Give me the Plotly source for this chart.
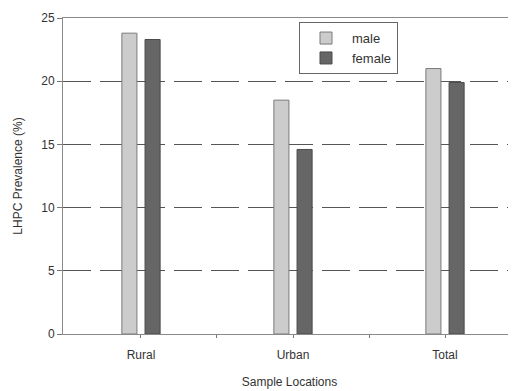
import plotly.graph_objects as go

categories = ["Rural", "Urban", "Total"]
male = [23.8, 18.5, 21.0]
female = [23.3, 14.6, 19.9]
y_ticks = [0, 5, 10, 15, 20, 25]

xpos = list(range(len(categories)))

fig = go.Figure()
fig.add_trace(go.Bar(x=xpos, y=male, name="male",
                     marker=dict(color="#cccccc", line=dict(color="#7a7a7a", width=1))))
fig.add_trace(go.Bar(x=xpos, y=female, name="female",
                     marker=dict(color="#666666", line=dict(color="#4a4a4a", width=1))))

font = "Liberation Sans, Arial, sans-serif"
fig.update_layout(
    width=508, height=383,
    margin=dict(l=55, r=0, t=10, b=57, autoexpand=False),
    paper_bgcolor="white", plot_bgcolor="white",
    barmode="group", bargap=0.695, bargroupgap=0.35,
    font=dict(family=font, size=12, color="#333333"),
    showlegend=True,
    legend=dict(x=0.521, y=0.987, xanchor="left", yanchor="top",
                bordercolor="#666666", borderwidth=1, bgcolor="white",
                font=dict(size=13, color="#333333"),
                itemwidth=42, tracegroupgap=0),
    xaxis=dict(range=[-0.513, 2.467], tickmode="array",
               tickvals=[0, 0.5, 1, 1.5, 2],
               ticktext=["Rural", "", "Urban", "", "Total"],
               ticks="outside", ticklen=3, tickcolor="#777777",
               ticklabelstandoff=7,
               showline=True, linecolor="#8a8a8a", linewidth=1, mirror=True,
               showgrid=False, zeroline=False,
               title=dict(text="Sample Locations", standoff=16, font=dict(size=12))),
    yaxis=dict(range=[0, 25], tickmode="array", tickvals=y_ticks,
               ticks="outside", ticklen=5, tickcolor="#777777",
               showline=True, linecolor="#8a8a8a", linewidth=1,
               showgrid=True, gridcolor="#555555", gridwidth=1, griddash="28px,9px",
               zeroline=False,
               title=dict(text="LHPC Prevalence (%)", standoff=16, font=dict(size=12)),
               tickfont=dict(size=12)),
)
fig.write_html("out.html")
